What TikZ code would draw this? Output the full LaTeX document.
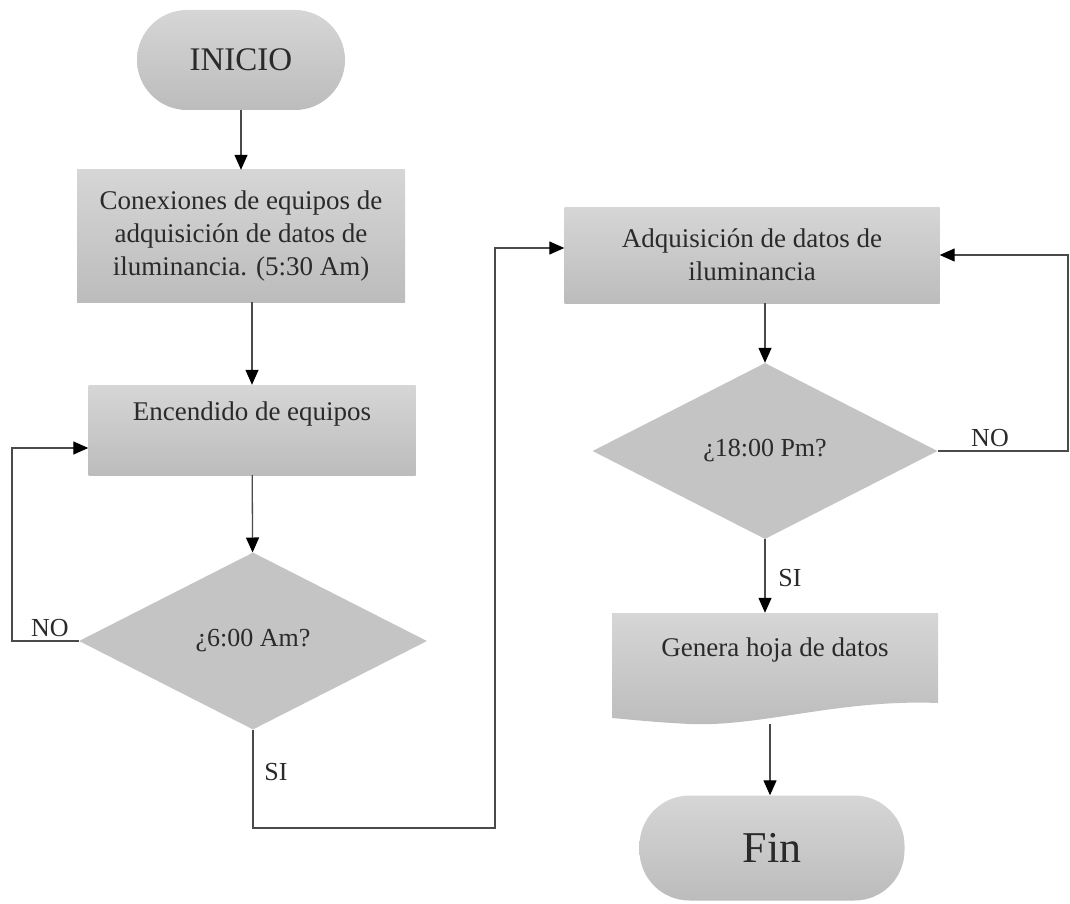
\documentclass[tikz,border=0pt]{standalone}
\usepackage{fontspec}
\setmainfont{Liberation Serif}
\usetikzlibrary{arrows.meta,shapes.geometric,calc}
\definecolor{boxtop}{HTML}{D6D6D6}
\definecolor{boxbot}{HTML}{BCBCBC}
\definecolor{dia}{HTML}{C4C4C4}
\definecolor{txt}{HTML}{2A2A2A}
\definecolor{ln}{HTML}{4A4A4A}
\begin{document}
\begin{tikzpicture}[x=1pt,y=-1pt,
  proc/.style={rectangle, top color=boxtop, bottom color=boxbot, text=txt,
    font=\fontsize{27}{33}\selectfont, align=center, inner sep=0pt},
  term/.style={rectangle, rounded corners=50pt, top color=boxtop, bottom color=boxbot,
    text=txt, inner sep=0pt},
  dec/.style={diamond, fill=dia, text=txt, font=\fontsize{26}{31}\selectfont, inner sep=0pt},
  lbl/.style={text=txt, font=\fontsize{26}{31}\selectfont, inner sep=0pt},
  arr/.style={draw=ln, line width=1.3pt, -{Triangle[length=15pt,width=13pt,color=black]}},
  ln/.style={draw=ln, line width=1.3pt}]
\useasboundingbox (0,0) rectangle (1070,904);

% nodes
\node[term, minimum width=208pt, minimum height=100pt, font=\fontsize{33}{38}\selectfont] (ini) at (241,60) {INICIO};
\node[proc, minimum width=328pt, minimum height=132pt] (c1) at (241,236)
  {Conexiones de equipos de\\adquisición de datos de\\iluminancia. (5:30 Am)};
\node[proc, minimum width=327pt, minimum height=90pt] (enc) at (252,430) {Encendido de equipos\\[-6pt]\strut};
\node[dec, minimum width=348pt, minimum height=177pt] (d1) at (253,641) {¿6:00 Am?\\[4pt]};
\node[proc, minimum width=375pt, minimum height=96pt] (adq) at (752,255)
  {Adquisición de datos de\\iluminancia};
\node[dec, minimum width=345pt, minimum height=176pt] (d2) at (765,451) {¿18:00 Pm?\\[4pt]};

% document shape
\shade[top color=boxtop, bottom color=boxbot]
  (612,613) -- (938,613) -- (938,703)
  .. controls (840,699) and (760,727) .. (690,724)
  .. controls (650,722) and (625,719) .. (612,718) -- cycle;
\node[text=txt, font=\fontsize{27}{33}\selectfont, minimum width=326pt, minimum height=74pt, inner sep=0pt] (doc) at (775,650) {Genera hoja de datos};
\coordinate (docb) at (770,724);

\node[term, minimum width=265pt, minimum height=105pt, font=\fontsize{44}{50}\selectfont] (fin) at (772,848) {Fin};

% connectors
\draw[arr] (ini) -- (c1);
\draw[arr] (c1.south -| enc) -- (enc);
\draw[arr] (enc) -- (d1);
\coordinate (nol) at (12,641);
\draw[arr] (d1.west) -- (nol) |- ([yshift=-18pt]enc.west);
\coordinate (sib) at (253,828);
\coordinate (sir) at (495,828);
\draw[arr] (d1.south) -- (sib) -- (sir) |- ([yshift=7pt]adq.west);
\draw[arr] (adq.south -| d2) -- (d2);
\coordinate (nor) at (1068,451);
\draw[arr] (d2.east) -- (nor) |- (adq.east);
\draw[arr] (d2.south) -- (d2.south |- doc.north);
\draw[arr] (docb) -- (docb |- fin.north);

% labels
\node[lbl] (no1) at (50,628) {NO};
\node[lbl] (si1) at (276,772) {SI};
\node[lbl] (no2) at (990,438) {NO};
\node[lbl] (si2) at (790,578) {SI};
\end{tikzpicture}
\end{document}
